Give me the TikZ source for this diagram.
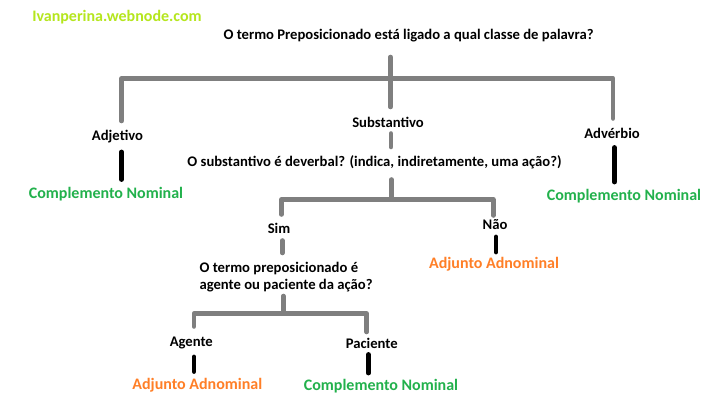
\documentclass[tikz,border=0pt]{standalone}
\usepackage{fontspec}
\setmainfont{Carlito}
\definecolor{cLime}{HTML}{B5E61D}
\definecolor{cGreen}{HTML}{22B14C}
\definecolor{cOrange}{HTML}{FF7F27}
\definecolor{cGray}{HTML}{7F7F7F}
\tikzset{
  lbl/.style={inner sep=0pt, font=\fontsize{11}{12.6}\selectfont\bfseries, text=black},
  ans/.style={inner sep=0pt, font=\fontsize{12}{14}\selectfont\bfseries},
  cn/.style={ans, text=cGreen},
  aa/.style={ans, text=cOrange},
  tree/.style={draw=cGray, line width=3.4pt, line cap=round, line join=round},
  leaf/.style={draw=black, line width=3.6pt, line cap=round}
}
\begin{document}
\begin{tikzpicture}[x=0.75pt,y=-0.75pt]
\useasboundingbox (0,0) rectangle (716,417);
\fill[white] (0,0) rectangle (716,417);

% texts
\node[ans, text=cLime, anchor=west] (site) at (32,17) {Ivanperina.webnode.com};
\node[lbl] (title) at (408.5,36) {O termo Preposicionado está ligado a qual classe de palavra?};
\node[lbl] (adj) at (117.5,137) {Adjetivo};
\node[lbl] (subst) at (388,122.5) {Substantivo};
\node[lbl] (adv) at (612,133.3) {Advérbio};
\node[cn] (cn1) at (106,194) {Complemento Nominal};
\node[cn] (cn2) at (624,195.7) {Complemento Nominal};
\node[lbl] (q2) at (374.5,162.3) {O substantivo é deverbal? (indica, indiretamente, uma ação?)};
\node[lbl] (sim) at (279,228.3) {Sim};
\node[lbl] (nao) at (495,225) {Não};
\node[aa] (aa1) at (494,264) {Adjunto Adnominal};
\node[lbl, align=left, anchor=west] (q3) at (199.3,276.7) {O termo preposicionado é\\agente ou paciente da ação?};
\node[lbl] (ag) at (191.3,343.3) {Agente};
\node[lbl] (pac) at (371.7,343.3) {Paciente};
\node[aa] (aa2) at (197.3,385) {Adjunto Adnominal};
\node[cn] (cn3) at (381,386) {Complemento Nominal};

% junction coordinates
\coordinate (t0) at (390.5,57);
\coordinate (t1) at (390.5,78.3);
\coordinate (tl) at (121.5,78.3);
\coordinate (tr) at (613,78.3);
\coordinate (tlb) at (121.5,121);
\coordinate (trb) at (613,118.5);
\coordinate (tcb) at (390.5,107);
\coordinate (d0) at (391,133.5);
\coordinate (d1) at (391,147);
\coordinate (al0) at (121.7,152);
\coordinate (al1) at (121.7,179.5);
\coordinate (ar0) at (614.3,147.5);
\coordinate (ar1) at (614.3,182);
\coordinate (s0) at (391.5,179.5);
\coordinate (s1) at (391.5,199.5);
\coordinate (sl) at (281.5,199.5);
\coordinate (sr) at (493.3,199.5);
\coordinate (slb) at (281.5,214.5);
\coordinate (srb) at (493.3,215.5);
\coordinate (sd0) at (282.3,240.5);
\coordinate (sd1) at (282.3,253);
\coordinate (n0) at (496,237);
\coordinate (n1) at (496,252);
\coordinate (p0) at (283.3,296);
\coordinate (p1) at (283.3,313.5);
\coordinate (pl) at (194,313.5);
\coordinate (pr) at (366.7,313.5);
\coordinate (plb) at (194,326.5);
\coordinate (prb) at (366.7,332);
\coordinate (g0) at (194,357);
\coordinate (g1) at (194,371.5);
\coordinate (c0) at (368.3,354.5);
\coordinate (c1) at (368.3,373);

% gray tree
\draw[tree] (t0) -- (t1);
\draw[tree] (tlb) -- (tl) -- (tr) -- (trb);
\draw[tree] (t1) -- (tcb);
\draw[tree] (d0) -- (d1);
\draw[tree] (s0) -- (s1);
\draw[tree] (slb) -- (sl) -- (sr) -- (srb);
\draw[tree] (sd0) -- (sd1);
\draw[tree] (p0) -- (p1);
\draw[tree] (plb) -- (pl) -- (pr) -- (prb);

% black leaves
\draw[leaf] (al0) -- (al1);
\draw[leaf] (ar0) -- (ar1);
\draw[leaf] (n0) -- (n1);
\draw[leaf] (g0) -- (g1);
\draw[leaf] (c0) -- (c1);
\end{tikzpicture}
\end{document}
